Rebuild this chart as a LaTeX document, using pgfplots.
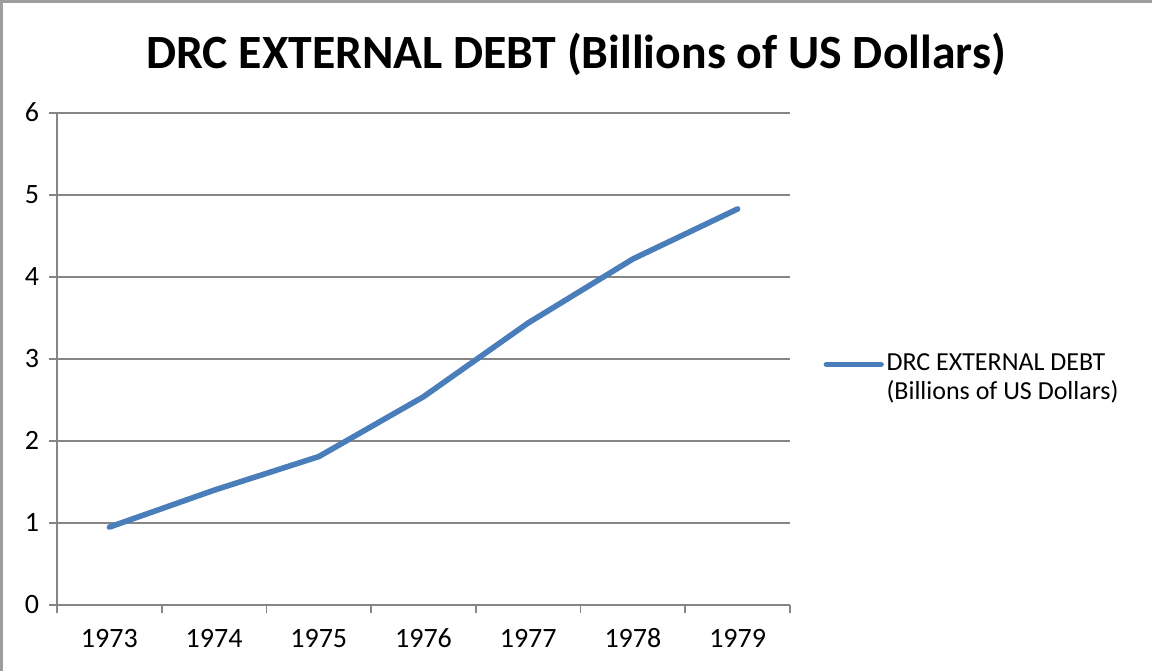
\documentclass[border=0pt]{standalone}
\usepackage{pgfplots}
\pgfplotsset{compat=1.18}
\usepackage{fontspec}
\setmainfont{Carlito}
\definecolor{axgray}{HTML}{868686}
\definecolor{xlblue}{HTML}{4A7EBB}
\begin{document}
\begin{tikzpicture}[x=1pt,y=1pt]
\useasboundingbox (0,0) rectangle (864,503.25);
\draw[axgray!80, line width=2pt] (1,0) -- (1,502.25) -- (864,502.25);
\node[font=\bfseries\fontsize{35.8}{43}\selectfont] at (432,462.5) {DRC EXTERNAL DEBT (Billions of US Dollars)};
\begin{axis}[
  at={(42.75pt,49.5pt)}, anchor=south west,
  scale only axis, width=549.75pt, height=369pt,
  xmin=0.5, xmax=7.5, ymin=0, ymax=6,
  axis x line*=bottom, axis y line*=left,
  axis line style={axgray, line width=1.2pt, -},
  xtick={0.5,1.5,...,7.5},
  xticklabels={1973,1974,1975,1976,1977,1978,1979},
  x tick label as interval,
  ytick={0,1,...,6},
  tick align=outside,
  major tick length=6pt,
  tick style={axgray, line width=1.2pt},
  ymajorgrids,
  grid style={axgray, line width=1.2pt},
  ticklabel style={font=\fontsize{21}{25}\selectfont},
  typeset ticklabels with strut,
  /pgf/number format/assume math mode=true,
  xticklabel style={yshift=-5pt},
  yticklabel style={xshift=-4pt, yshift=-1.5pt},
  legend style={at={(1,0.5)}, anchor=west, xshift=22pt, yshift=-14pt, draw=none, fill=none,
    font=\fontsize{19.5}{21.5}\selectfont, cells={align=left}},
  legend cell align=left,
  legend image code/.code={\draw[#1, line cap=round] (0pt,10pt) -- (41pt,10pt);},
]
\addplot[xlblue, line width=4.2pt, line cap=round, line join=round] coordinates {
  (1,0.95) (2,1.40) (3,1.81) (4,2.54) (5,3.44) (6,4.22) (7,4.83)
};
\addlegendentry{DRC EXTERNAL DEBT\\(Billions of US Dollars)}
\end{axis}
\end{tikzpicture}
\end{document}
